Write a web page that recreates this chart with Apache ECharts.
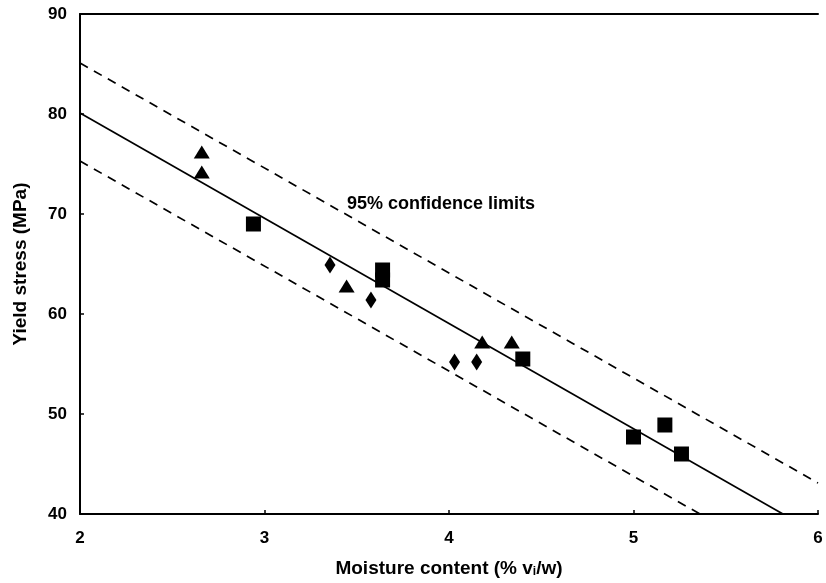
<!DOCTYPE html>
<html>
<head>
<meta charset="utf-8">
<script src="https://cdn.jsdelivr.net/npm/echarts@6/dist/echarts.min.js"></script>
<style>html,body{margin:0;padding:0;background:#fff}#c{width:826px;height:583px}</style>
</head>
<body>
<div id="c"></div>
<script>
// Data
const xTicks = [2, 3, 4, 5, 6];
const yTicks = [40, 50, 60, 70, 80, 90];
const triangles = [[2.66, 76.2], [2.66, 74.2], [3.445, 62.8], [4.18, 57.2], [4.34, 57.2]];
const squares = [[2.94, 69.0], [3.64, 64.4], [3.64, 63.4], [4.40, 55.5], [5.00, 47.7], [5.17, 48.9], [5.26, 46.0]];
const diamonds = [[3.355, 64.9], [3.577, 61.4], [4.03, 55.2], [4.15, 55.2]];
const fitLine = [[2, 80.1], [5.81, 40]];
const upperLimit = [[2, 85.1], [6, 43.1]];
const lowerLimit = [[2, 75.3], [5.36, 40]];
const annotation = '95% confidence limits';

const chart = echarts.init(document.getElementById('c'), null, {renderer: 'canvas'});
const font = '"Liberation Sans", Arial, sans-serif';
const lineSeries = (data, type) => ({
  type: 'line', data: data, symbol: 'none', silent: true,
  lineStyle: {color: '#000', width: type === 'solid' ? 1.7 : 1.7, type: type === 'solid' ? 'solid' : [9, 7], opacity: 1},
  z: 1
});
const marker = {color: '#000', opacity: 1};
chart.setOption({
  animation: false,
  backgroundColor: '#fff',
  grid: {left: 80, right: 8, top: 14, bottom: 69},
  xAxis: [{
    type: 'value', min: xTicks[0], max: xTicks[xTicks.length - 1], interval: 1,
    axisLine: {show: true, lineStyle: {color: '#000', width: 2}},
    axisTick: {show: true, inside: true, length: 4, lineStyle: {color: '#000', width: 1.5}},
    splitLine: {show: false},
    axisLabel: {color: '#000', fontFamily: font, fontWeight: 'bold', fontSize: 17, margin: 16},
    name: '{t|Moisture content (% v}{s|i}{t|/w)}',
    nameLocation: 'middle', nameGap: 45,
    nameTextStyle: {rich: {
      t: {fontFamily: font, fontWeight: 'bold', fontSize: 19, color: '#000'},
      s: {fontFamily: font, fontWeight: 'bold', fontSize: 12, color: '#000', verticalAlign: 'bottom', padding: [7, 0, 0, 0]}
    }}
  }, {
    type: 'value', position: 'top', min: xTicks[0], max: xTicks[xTicks.length - 1],
    axisLine: {show: true, lineStyle: {color: '#000', width: 2}},
    axisTick: {show: false}, axisLabel: {show: false}, splitLine: {show: false}
  }],
  yAxis: {
    type: 'value', min: yTicks[0], max: yTicks[yTicks.length - 1], interval: 10,
    axisLine: {show: true, lineStyle: {color: '#000', width: 2}},
    axisTick: {show: true, inside: true, length: 4, lineStyle: {color: '#000', width: 1.5}},
    splitLine: {show: false},
    axisLabel: {color: '#000', fontFamily: font, fontWeight: 'bold', fontSize: 17, margin: 13},
    name: 'Yield stress (MPa)', nameLocation: 'middle', nameGap: 50,
    nameTextStyle: {fontFamily: font, fontWeight: 'bold', fontSize: 19, color: '#000'}
  },
  graphic: [{
    type: 'text', left: 347, top: 195,
    style: {text: annotation, fill: '#000', font: 'bold 18px ' + font}
  }],
  series: [
    lineSeries(upperLimit, 'dashed'),
    lineSeries(fitLine, 'solid'),
    lineSeries(lowerLimit, 'dashed'),
    {type: 'scatter', data: triangles, symbol: 'triangle', symbolSize: [16, 13], itemStyle: marker, z: 3},
    {type: 'scatter', data: squares, symbol: 'rect', symbolSize: [15, 15], itemStyle: marker, z: 3},
    {type: 'scatter', data: diamonds, symbol: 'diamond', symbolSize: [11, 17], itemStyle: marker, z: 3}
  ]
});
</script>
</body>
</html>
